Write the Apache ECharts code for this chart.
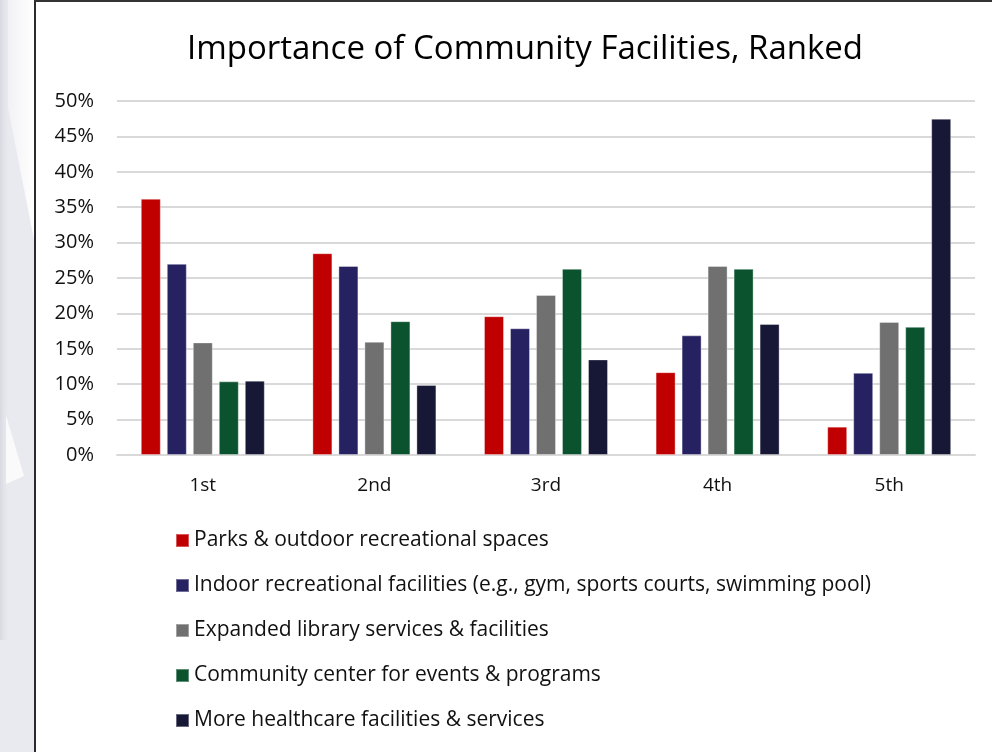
<!DOCTYPE html>
<html>
<head>
<meta charset="utf-8">
<script src="https://cdn.jsdelivr.net/npm/echarts@6/dist/echarts.min.js"></script>
<style>html,body{margin:0;padding:0;background:#fff;}#c{width:992px;height:752px;}</style>
</head>
<body>
<div id="c"></div>
<script>
var categories = ['1st', '2nd', '3rd', '4th', '5th'];
var seriesNames = [
  'Parks & outdoor recreational spaces',
  'Indoor recreational facilities (e.g., gym, sports courts, swimming pool)',
  'Expanded library services & facilities',
  'Community center for events & programs',
  'More healthcare facilities & services'
];
var parks = [36.2, 28.5, 19.6, 11.7, 4.0];
var indoor = [27.0, 26.7, 17.9, 16.9, 11.6];
var library = [15.9, 16.0, 22.6, 26.7, 18.8];
var community = [10.4, 18.9, 26.3, 26.3, 18.1];
var healthcare = [10.5, 9.9, 13.5, 18.5, 47.5];
var colors = ['#C00000', '#262262', '#707071', '#0B532E', '#171736'];
var yTicks = [0, 5, 10, 15, 20, 25, 30, 35, 40, 45, 50];

var seriesData = [parks, indoor, library, community, healthcare];
var FONT = 'Open Sans';

var chart = echarts.init(document.getElementById('c'));
chart.setOption({
  backgroundColor: '#ffffff',
  animation: false,
  title: {
    text: 'Importance of Community Facilities, Ranked',
    left: 520, textAlign: 'center', top: 28,
    textStyle: { fontFamily: FONT, fontSize: 33, fontWeight: 'normal', color: '#000' }
  },
  legend: {
    orient: 'vertical', left: 170, top: 525,
    icon: 'rect', itemWidth: 13, itemHeight: 13, itemGap: 24,
    textStyle: { fontFamily: FONT, fontSize: 21, color: '#111' },
    data: seriesNames
  },
  grid: { left: 117, right: 17, top: 101, bottom: 297 },
  xAxis: {
    type: 'category', data: categories,
    axisLine: { lineStyle: { color: '#d9d9d9', width: 2 } },
    axisTick: { show: false },
    axisLabel: { fontFamily: FONT, fontSize: 19, color: '#111', margin: 21 }
  },
  yAxis: {
    type: 'value', min: yTicks[0], max: yTicks[yTicks.length - 1], interval: 5,
    axisLine: { show: false }, axisTick: { show: false },
    splitLine: { lineStyle: { color: '#d9d9d9', width: 2 } },
    axisLabel: { fontFamily: FONT, fontSize: 20, color: '#111', margin: 23, formatter: '{value}%' }
  },
  series: seriesData.map(function (d, i) {
    return {
      name: seriesNames[i], type: 'bar', data: d,
      barWidth: 20, barGap: '30%',
      itemStyle: { color: colors[i], borderColor: 'rgba(255,255,255,0.35)', borderWidth: 1 }
    };
  }),
  graphic: [
    { type: 'rect', shape: { x: 0, y: 0, width: 35, height: 752 }, style: { fill: '#e9e9f0' }, z: -10 },
    { type: 'rect', shape: { x: 0, y: 0, width: 10, height: 640 },
      style: { fill: new echarts.graphic.LinearGradient(0, 0, 1, 0, [
        { offset: 0, color: '#d8d8e0' }, { offset: 1, color: 'rgba(233,233,240,0)' }]) }, z: -9 },
    { type: 'polygon', shape: { points: [[8, 0], [35, 0], [35, 245], [8, 108]] },
      style: { fill: new echarts.graphic.LinearGradient(0, 0, 1, 0, [
        { offset: 0, color: '#f2f2f5' }, { offset: 1, color: '#ffffff' }]) }, z: -8 },
    { type: 'polygon', shape: { points: [[6, 415], [24, 476], [6, 484]] },
      style: { fill: '#fafafa' }, z: -8 },
    { type: 'rect', shape: { x: 34, y: 0, width: 2, height: 752 }, style: { fill: '#2b2b2b' }, z: 10 },
    { type: 'rect', shape: { x: 34, y: 0, width: 958, height: 2 }, style: { fill: '#333333' }, z: 10 }
  ]
});
</script>
</body>
</html>
